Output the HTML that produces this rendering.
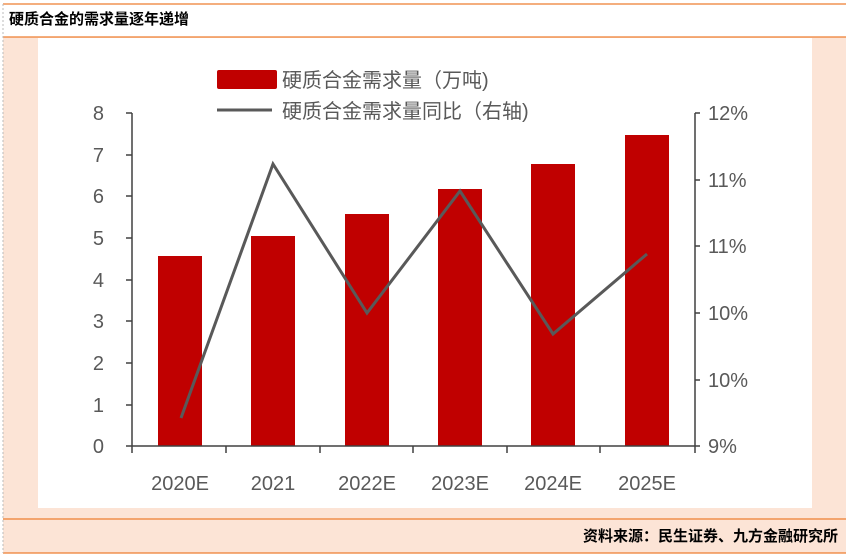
<!DOCTYPE html><html><head><style>
body{margin:0;width:849px;height:555px;background:#fff;font-family:"Liberation Sans","Noto Sans CJK SC",sans-serif;overflow:hidden}
</style></head><body>
<svg width="849" height="555" xmlns="http://www.w3.org/2000/svg" style="position:absolute;left:0;top:0">
<rect x="3" y="4" width="843" height="549" fill="#fce4d6"/>
<rect x="3" y="4" width="843" height="33" fill="#fff"/>
<line x1="3" y1="4" x2="846" y2="4" stroke="#ed7d31" stroke-width="1.2"/>
<line x1="3" y1="37" x2="846" y2="37" stroke="#ed7d31" stroke-width="1.2"/>
<line x1="3" y1="519" x2="846" y2="519" stroke="#ed7d31" stroke-width="1.2"/>
<line x1="3" y1="553" x2="846" y2="553" stroke="#ed7d31" stroke-width="1.2"/>
<line x1="3" y1="4" x2="3" y2="553" stroke="#bbb" stroke-dasharray="2,2"/>
<text x="9" y="24" font-size="15" font-weight="bold" fill="#000">硬质合金的需求量逐年递增</text>
<rect x="38" y="38" width="774" height="470" fill="#fff"/>
<text x="838" y="541" font-size="15" font-weight="bold" fill="#000" text-anchor="end">资料来源：民生证券、九方金融研究所</text>
<g fill="#c00000">
<rect x="158" y="256" width="44" height="190"/>
<rect x="251" y="236" width="44" height="210"/>
<rect x="345" y="214" width="44" height="232"/>
<rect x="438" y="189" width="44" height="257"/>
<rect x="531" y="164" width="44" height="282"/>
<rect x="625" y="135" width="44" height="311"/>
</g>
<g stroke="#404040" stroke-width="1.5" fill="none">
<line x1="132" y1="113" x2="132" y2="446"/>
<line x1="126" y1="446" x2="700" y2="446"/>
<line x1="695" y1="113" x2="695" y2="446"/>
<path d="M126 113H132M126 155H132M126 196H132M126 238H132M126 280H132M126 321H132M126 363H132M126 405H132"/>
<path d="M695 113H700M695 180H700M695 246H700M695 313H700M695 380H700"/>
<path d="M132 446V453M226 446V453M320 446V453M413 446V453M507 446V453M600 446V453M695 446V453"/>
</g>
<polyline points="181,418 273,164 367,313 460,191 553,334 647,254" fill="none" stroke="#595959" stroke-width="3"/>
<g font-size="20" fill="#595959">
<g text-anchor="end">
<text x="104" y="120">8</text><text x="104" y="162">7</text><text x="104" y="203">6</text><text x="104" y="245">5</text><text x="104" y="287">4</text><text x="104" y="328">3</text><text x="104" y="370">2</text><text x="104" y="412">1</text><text x="104" y="453">0</text>
</g>
<text x="708" y="120">12%</text><text x="708" y="187">11%</text><text x="708" y="253">11%</text><text x="708" y="320">10%</text><text x="708" y="387">10%</text><text x="708" y="453">9%</text>
<g text-anchor="middle">
<text x="180" y="490">2020E</text><text x="273" y="490">2021</text><text x="367" y="490">2022E</text><text x="460" y="490">2023E</text><text x="553" y="490">2024E</text><text x="647" y="490">2025E</text>
</g>
<rect x="217" y="70" width="60" height="19" rx="2" fill="#c00000"/>
<text x="282" y="87">硬质合金需求量（万吨)</text>
<line x1="217" y1="110" x2="272" y2="110" stroke="#595959" stroke-width="3"/>
<text x="282" y="118">硬质合金需求量同比（右轴)</text>
</g>
</svg>
</body></html>
